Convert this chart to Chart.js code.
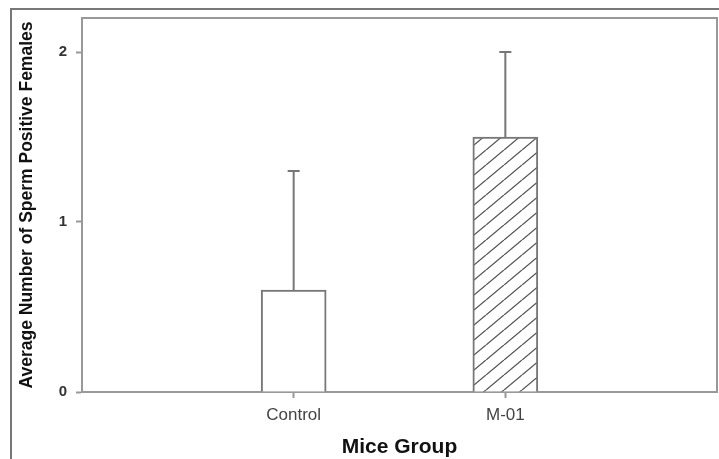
<!DOCTYPE html>
<html>
<head>
<meta charset="utf-8">
<script src="https://cdn.jsdelivr.net/npm/chart.js@4"></script>
<style>
  html, body { margin: 0; padding: 0; background: #fff; }
  #wrap { width: 719px; height: 459px; }
</style>
</head>
<body>
<div id="wrap"><canvas id="chart" width="719" height="459"></canvas></div>
<script>
// data
const categories = ["Control", "M-01"];
const means = [0.6, 1.5];
const errors = [0.7, 0.5];
const yTicks = [0, 1, 2];
const yMax = 2.2;

const xTitle = "Mice Group";
const yTitle = "Average Number of Sperm Positive Females";

// hatch pattern for the M-01 bar
function makeHatch() {
  const w = 18, h = 15;
  const c = document.createElement("canvas");
  c.width = w; c.height = h;
  const g = c.getContext("2d");
  g.fillStyle = "#fff";
  g.fillRect(0, 0, w, h);
  g.strokeStyle = "#555";
  g.lineWidth = 1.3;
  g.beginPath();
  g.moveTo(-w, h); g.lineTo(0, 0);
  g.moveTo(0, h); g.lineTo(w, 0);
  g.moveTo(w, h); g.lineTo(2 * w, 0);
  g.stroke();
  return g.createPattern(c, "repeat");
}

// pad categories so the bars sit at 1/3 and 2/3 of the axis
const labels = ["", ...categories, ""];
const values = [null, ...means, null];
const errs = [null, ...errors, null];

const frame = {
  id: "frame",
  beforeDraw(chart) {
    const ctx = chart.ctx;
    ctx.save();
    ctx.strokeStyle = "#777";
    ctx.lineWidth = 2;
    ctx.beginPath();
    ctx.moveTo(11, 459); ctx.lineTo(11, 9); ctx.lineTo(719, 9);
    ctx.stroke();
    ctx.restore();
  },
  afterDraw(chart) {
    const a = chart.chartArea, ctx = chart.ctx;
    ctx.save();
    ctx.strokeStyle = "#999";
    ctx.lineWidth = 2;
    ctx.beginPath();
    ctx.moveTo(a.left, a.top); ctx.lineTo(a.right, a.top); ctx.lineTo(a.right, a.bottom);
    ctx.stroke();
    ctx.restore();
  }
};

const errorBars = {
  id: "errorBars",
  afterDatasetsDraw(chart) {
    const ctx = chart.ctx;
    const y = chart.scales.y;
    const meta = chart.getDatasetMeta(0);
    ctx.save();
    ctx.strokeStyle = "#777";
    ctx.lineWidth = 2;
    meta.data.forEach((bar, i) => {
      if (values[i] == null) return;
      const top = y.getPixelForValue(values[i] + errs[i]);
      ctx.beginPath();
      ctx.moveTo(bar.x, bar.y);
      ctx.lineTo(bar.x, top);
      ctx.moveTo(bar.x - 6, top);
      ctx.lineTo(bar.x + 6, top);
      ctx.stroke();
    });
    ctx.restore();
  }
};

const PAD_LEFT = 17;

new Chart(document.getElementById("chart"), {
  type: "bar",
  data: {
    labels: labels,
    datasets: [{
      data: values,
      backgroundColor: ["#fff", "#fff", makeHatch(), "#fff"],
      borderColor: "#777",
      borderWidth: 2,
      barThickness: 65
    }]
  },
  options: {
    responsive: false,
    animation: false,
    layout: { padding: { left: PAD_LEFT, top: 18, right: 2, bottom: 0 } },
    plugins: { legend: { display: false }, tooltip: { enabled: false } },
    scales: {
      x: {
        offset: false,
        grid: {
          offset: false,
          drawOnChartArea: false,
          tickLength: 6,
          tickColor: (c) => (c.tick && c.tick.label ? "#999" : "transparent"),
          tickWidth: 2
        },
        border: { color: "#999", width: 2 },
        ticks: { color: "#444", font: { family: "Liberation Sans, Arial", size: 17 }, padding: 7, maxRotation: 0 },
        title: {
          display: true, text: xTitle, color: "#111",
          font: { family: "Liberation Sans, Arial", size: 21, weight: "bold" },
          padding: { top: 0, bottom: -1 }
        },
        afterFit: (s) => { s.height = 67; s.paddingLeft = 0; s.paddingRight = 0; }
      },
      y: {
        min: 0,
        max: yMax,
        afterBuildTicks: (s) => { s.ticks = yTicks.map((v) => ({ value: v })); },
        grid: { drawOnChartArea: false, tickLength: 6, tickColor: "#999", tickWidth: 2 },
        border: { color: "#999", width: 2 },
        ticks: { color: "#333", font: { family: "Liberation Sans, Arial", size: 15, weight: "bold" }, padding: 9 },
        title: {
          display: true, text: yTitle, color: "#111",
          font: { family: "Liberation Sans, Arial", size: 17.5, weight: "bold" },
          padding: { top: 0, bottom: 0 }
        },
        afterFit: (s) => { s.width = 82 - PAD_LEFT; }
      }
    }
  },
  plugins: [frame, errorBars]
});
</script>
</body>
</html>
